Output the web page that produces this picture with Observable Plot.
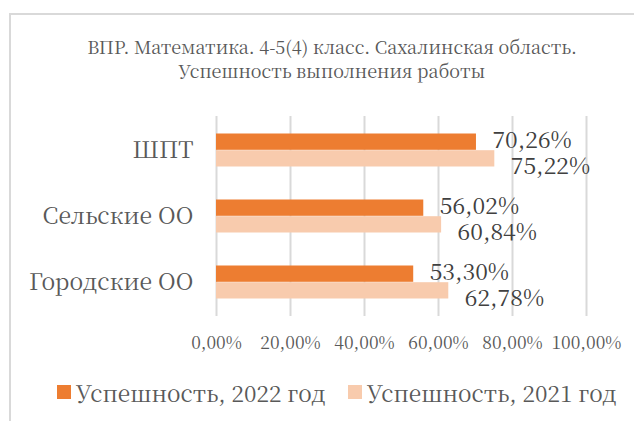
<!DOCTYPE html>
<html>
<head>
<meta charset="utf-8">
<script src="https://cdn.jsdelivr.net/npm/d3@7"></script>
<script src="https://cdn.jsdelivr.net/npm/@observablehq/plot@0.6"></script>
<style>
  html, body { margin: 0; padding: 0; background: #fff; }
  body { width: 634px; height: 421px; position: relative; overflow: hidden; font-family: 'Noto Serif CJK SC', 'Liberation Serif', serif; }
  #frame { position: absolute; left: 9px; top: 13px; width: 700px; height: 500px; border-top: 2px solid #D9D9D9; border-left: 2px solid #D9D9D9; box-sizing: border-box; }
  #title { position: absolute; left: 0; top: 34px; width: 664px; text-align: center; font-size: 18px; line-height: 24px; color: #595959; white-space: nowrap; }
  #chart { position: absolute; left: 0; top: 100px; }
  #chart svg text { font-family: 'Noto Serif CJK SC', 'Liberation Serif', serif; }
  .leg { position: absolute; top: 377px; font-size: 22.7px; line-height: 30px; color: #595959; white-space: nowrap; display: flex; align-items: center; }
  .sw { display: inline-block; width: 14px; height: 14px; margin-right: 5px; }
</style>
</head>
<body>
<div id="frame"></div>
<div id="title">ВПР. Математика. 4-5(4) класс. Сахалинская область.<br>Успешность выполнения работы</div>
<div id="chart"></div>
<div id="legend"></div>
<script>
const categories = ["ШПТ", "Сельские ОО", "Городские ОО"];
const values2022 = [70.26, 56.02, 53.30];
const values2021 = [75.22, 60.84, 62.78];
const seriesNames = ["Успешность, 2022 год", "Успешность, 2021 год"];
const seriesColors = ["#ED7D31", "#F8CBAD"];
const xTicks = [0, 20, 40, 60, 80, 100];

const rows2022 = categories.map((c, i) => ({category: c, value: values2022[i]}));
const rows2021 = categories.map((c, i) => ({category: c, value: values2021[i]}));

const fmt = v => d3.format(".2f")(v).replace(".", ",") + "%";

const chart = Plot.plot({
  width: 634,
  height: 260,
  marginTop: 16,
  marginBottom: 44,
  marginLeft: 216,
  marginRight: 48,
  style: { fontFamily: "'Noto Serif CJK SC', 'Liberation Serif', serif", background: "transparent" },
  x: { domain: [0, 100] },
  y: { domain: categories, padding: 0 },
  marks: [
    Plot.gridX(xTicks, { stroke: "#D9D9D9", strokeOpacity: 1, strokeWidth: 2 }),
    Plot.barX(rows2022, { x: "value", y: "category", fill: seriesColors[0], insetTop: 16.5, insetBottom: 33.2 }),
    Plot.barX(rows2021, { x: "value", y: "category", fill: seriesColors[1], insetTop: 33.2, insetBottom: 16.5 }),
    Plot.text(rows2022, { x: "value", y: "category", text: d => fmt(d.value), textAnchor: "start", dx: 16, dy: -10, fontSize: 23, fill: "#404040" }),
    Plot.text(rows2021, { x: "value", y: "category", text: d => fmt(d.value), textAnchor: "start", dx: 16, dy: 16, fontSize: 23, fill: "#404040" }),
    Plot.axisX(xTicks, { tickSize: 0, tickPadding: 20, fontSize: 17.5, color: "#595959", tickFormat: v => fmt(v), label: null }),
    Plot.axisY({ tickSize: 0, tickPadding: 23, fontSize: 23, color: "#595959", label: null })
  ]
});
document.getElementById("chart").appendChild(chart);

const legend = document.getElementById("legend");
const legLeft = [57, 348];
seriesNames.forEach((name, i) => {
  const item = document.createElement("div");
  item.className = "leg";
  item.style.left = legLeft[i] + "px";
  const sw = document.createElement("span");
  sw.className = "sw";
  sw.style.background = seriesColors[i];
  item.appendChild(sw);
  item.appendChild(document.createTextNode(name));
  legend.appendChild(item);
});
</script>
</body>
</html>
